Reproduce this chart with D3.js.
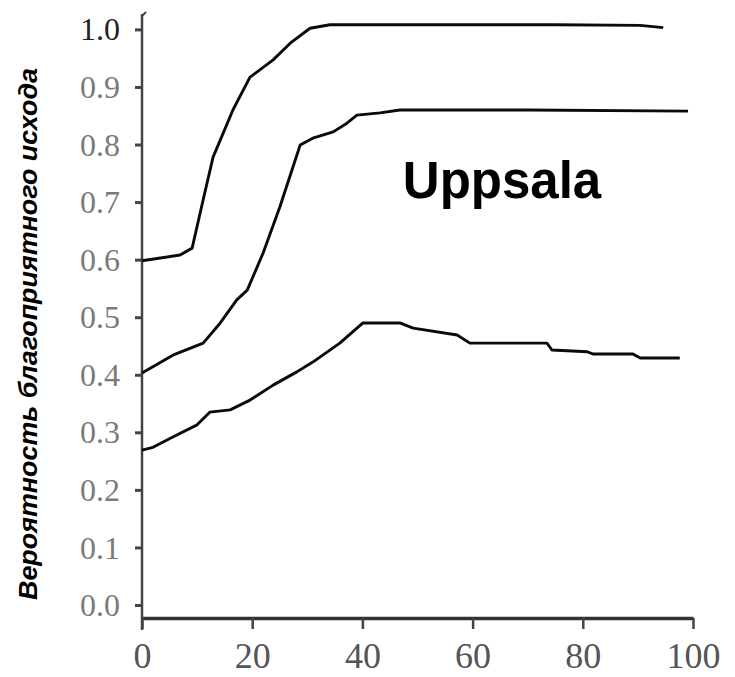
<!DOCTYPE html>
<html>
<head>
<meta charset="utf-8">
<script src="https://cdn.jsdelivr.net/npm/d3@7/dist/d3.min.js"></script>
<style>
  html, body { margin: 0; padding: 0; background: #fff; }
  svg { display: block; }
</style>
</head>
<body>
<div id="chart"></div>
<script>
// ---- data ----
const xTicks = [0, 20, 40, 60, 80, 100];
const yTicks = [0.0, 0.1, 0.2, 0.3, 0.4, 0.5, 0.6, 0.7, 0.8, 0.9, 1.0];
const yTitle = "Вероятность благоприятного исхода";
const chartLabel = "Uppsala";

const upperX = [0, 6.9, 9.1, 11.1, 12.9, 16.5, 19.6, 23.8, 26.9, 30.5, 34.1, 55.0, 75.0, 90.4, 94.6];
const upperY = [0.598, 0.608, 0.620, 0.704, 0.778, 0.860, 0.917, 0.947, 0.976, 1.002, 1.008, 1.008, 1.008, 1.007, 1.003];

const middleX = [0, 5.6, 11.1, 14.2, 17.2, 19.1, 22.0, 25.0, 27.4, 28.7, 31.0, 34.7, 37.2, 39.0, 43.2, 46.8, 70.0, 99.1];
const middleY = [0.403, 0.434, 0.455, 0.490, 0.530, 0.547, 0.612, 0.691, 0.761, 0.799, 0.811, 0.822, 0.837, 0.851, 0.855, 0.860, 0.860, 0.858];

const lowerX = [0, 2.0, 5.6, 10.0, 12.3, 16.0, 19.6, 23.8, 28.1, 31.0, 35.9, 40.1, 46.8, 49.2, 57.2, 59.5, 73.5, 74.4, 80.8, 81.9, 89.1, 90.4, 97.6];
const lowerY = [0.269, 0.274, 0.292, 0.313, 0.335, 0.339, 0.356, 0.382, 0.405, 0.422, 0.455, 0.490, 0.490, 0.481, 0.469, 0.455, 0.455, 0.443, 0.440, 0.436, 0.436, 0.429, 0.429];

const series = [
  { name: "upper", x: upperX, y: upperY },
  { name: "middle", x: middleX, y: middleY },
  { name: "lower", x: lowerX, y: lowerY }
];

// ---- layout ----
const W = 735, H = 677;
const svg = d3.select("#chart").append("svg").attr("width", W).attr("height", H);

const x = d3.scaleLinear().domain([0, 100]).range([142, 693]);
const y = d3.scaleLinear().domain([0, 1]).range([605, 29.4]);
const axisY = 618;

// y axis line (extends above and below the tick range)
svg.append("line")
  .attr("x1", 142).attr("x2", 142).attr("y1", 14).attr("y2", 630)
  .attr("stroke", "#444").attr("stroke-width", 2.5);
svg.append("path")
  .attr("d", "M142,16 L146,12")
  .attr("stroke", "#444").attr("stroke-width", 2).attr("fill", "none");

const yAxis = svg.append("g")
  .attr("transform", "translate(142,0)")
  .call(d3.axisLeft(y).tickValues(yTicks).tickSize(7).tickPadding(15).tickFormat(d3.format(".1f")));
yAxis.select(".domain").remove();
yAxis.selectAll(".tick line").attr("stroke", "#444").attr("stroke-width", 3);
yAxis.selectAll(".tick text")
  .attr("font-family", "'Liberation Serif', 'Times New Roman', serif")
  .attr("font-size", 32)
  .attr("fill", d => d === 1 ? "#222" : "#7a7a7a")
  .attr("dy", "0.33em");

const xAxis = svg.append("g")
  .attr("transform", `translate(0,${axisY})`)
  .call(d3.axisBottom(x).tickValues(xTicks).tickSize(11).tickSizeOuter(0).tickPadding(6).tickFormat(d3.format("d")));
xAxis.select(".domain").attr("stroke", "#333").attr("stroke-width", 3.5);
xAxis.selectAll(".tick line").attr("stroke", "#444").attr("stroke-width", 2.5);
xAxis.selectAll(".tick text")
  .attr("font-family", "'Liberation Serif', 'Times New Roman', serif")
  .attr("font-size", 36)
  .attr("fill", "#555")
  .attr("y", 0).attr("dy", 50);

// lines
const line = d3.line().x(d => x(d[0])).y(d => y(d[1]));
svg.selectAll(".series")
  .data(series)
  .enter().append("path")
  .attr("class", "series")
  .attr("d", s => line(s.x.map((v, i) => [v, s.y[i]])))
  .attr("fill", "none")
  .attr("stroke", "#0a0a0a")
  .attr("stroke-width", 2.9)
  .attr("stroke-linejoin", "round");

// y title
svg.append("text")
  .attr("transform", "translate(37,334) rotate(-90)")
  .attr("text-anchor", "middle")
  .attr("font-family", "'Liberation Sans', Arial, sans-serif")
  .attr("font-weight", "bold")
  .attr("font-style", "italic")
  .attr("font-size", 26)
  .attr("textLength", 532)
  .attr("lengthAdjust", "spacingAndGlyphs")
  .attr("fill", "#000")
  .text(yTitle);

// chart label
svg.append("text")
  .attr("x", 502).attr("y", 198)
  .attr("text-anchor", "middle")
  .attr("font-family", "'Liberation Sans', Arial, sans-serif")
  .attr("font-weight", "bold")
  .attr("font-size", 51)
  .attr("fill", "#000")
  .text(chartLabel);
</script>
</body>
</html>
